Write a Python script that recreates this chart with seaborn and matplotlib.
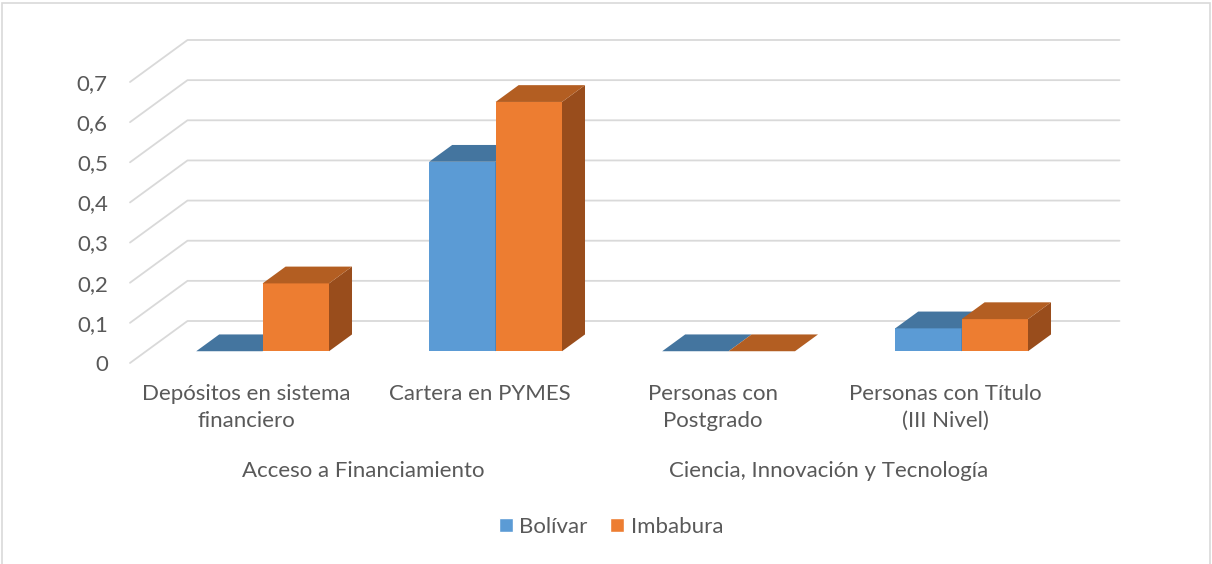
import matplotlib

matplotlib.use('agg')
import matplotlib.pyplot as plt
import matplotlib.transforms as mtransforms
from matplotlib.lines import Line2D
from matplotlib.patches import Patch, Polygon, Rectangle
import pandas as pd
import seaborn as sns

# data
indicadores = ['Depósitos en sistema\nfinanciero', 'Cartera en PYMES',
               'Personas con\nPostgrado', 'Personas con Título\n(III Nivel)']
grupos = ['Acceso a Financiamiento', 'Ciencia, Innovación y Tecnología']
provincias = ['Bolívar', 'Imbabura']
bolivar = [0.0, 0.472, 0.0, 0.057]
imbabura = [0.169, 0.621, 0.0, 0.080]
y_ticks = [0, 0.1, 0.2, 0.3, 0.4, 0.5, 0.6, 0.7]
y_labels = ['0', '0,1', '0,2', '0,3', '0,4', '0,5', '0,6', '0,7']

front_col = {'Bolívar': '#5B9BD5', 'Imbabura': '#ED7D31'}
top_col = {'Bolívar': '#44759F', 'Imbabura': '#B35E22'}
side_col = {'Bolívar': '#3A6590', 'Imbabura': '#994D1C'}
text_col = '#595959'
grid_col = '#D9D9D9'
fs = 16

df = pd.DataFrame({
    'indicador': indicadores * 2,
    'provincia': [provincias[0]] * 4 + [provincias[1]] * 4,
    'valor': bolivar + imbabura,
})

sns.set_theme(style='white')
plt.rcParams['font.family'] = ['Lato', 'DejaVu Sans']

W, H = 1212, 564
fig = plt.figure(figsize=(W / 100, H / 100), dpi=100)
# front plane of the 3D box
ax = fig.add_axes([130 / W, 201 / H, 932 / W, 281 / H])

# depth of the 3D box in pixels, and where the bars sit inside it
DX, DY = 57.5, 42.0
BAR_D0, BAR_D1 = 0.28, 0.68

sns.barplot(data=df, x='indicador', y='valor', hue='provincia', palette=front_col,
            width=0.57, gap=0, saturation=1, linewidth=0, legend=False, ax=ax)
ax.set_xlim(-0.5, 3.5)
ax.set_ylim(0, 0.7)
ax.set_xlabel('')
ax.set_ylabel('')
sns.despine(ax=ax, left=True, bottom=True)


def proj(x, y, d):
    px, py = ax.transData.transform((x, y))
    return px + d * DX, py + d * DY


ident = mtransforms.IdentityTransform()

# gridlines: diagonal on the left wall, then along the back wall
x0, x1 = ax.get_xlim()
for t in y_ticks:
    pts = [proj(x0, t, 0), proj(x0, t, 1), proj(x1, t, 1)]
    ax.add_line(Line2D([p[0] for p in pts], [p[1] for p in pts], transform=ident,
                       color=grid_col, lw=1.3, zorder=0.5, clip_on=False))

# push the bar fronts back into the box and add top / side faces
shift = mtransforms.ScaledTranslation(BAR_D0 * DX / fig.dpi, BAR_D0 * DY / fig.dpi, fig.dpi_scale_trans)
for bar in list(ax.patches):
    xl = bar.get_x()
    xr = xl + bar.get_width()
    h = bar.get_height()
    xc = (xl + xr) / 2
    prov = provincias[0] if xc < round(xc) else provincias[1]
    z = 2 if prov == provincias[0] else 3
    bar.set_transform(ax.transData + shift)
    bar.set_zorder(z)
    bar.set_clip_on(False)
    top = [proj(xl, h, BAR_D0), proj(xr, h, BAR_D0), proj(xr, h, BAR_D1), proj(xl, h, BAR_D1)]
    side = [proj(xr, 0, BAR_D0), proj(xr, h, BAR_D0), proj(xr, h, BAR_D1), proj(xr, 0, BAR_D1)]
    ax.add_patch(Polygon(side, closed=True, transform=ident, facecolor=side_col[prov],
                         lw=0, zorder=z + 0.05, clip_on=False))
    ax.add_patch(Polygon(top, closed=True, transform=ident, facecolor=top_col[prov],
                         lw=0, zorder=z + 0.1, clip_on=False))

ax.set_yticks(y_ticks, y_labels)
ax.set_xticks(range(len(indicadores)), indicadores)
ax.tick_params(axis='y', length=0, pad=16, labelsize=fs, labelcolor=text_col)
ax.tick_params(axis='x', length=0, pad=15, labelsize=fs, labelcolor=text_col)
for lbl in ax.get_xticklabels():
    lbl.set_linespacing(1.45)

# second level of category labels
for i, g in enumerate(grupos):
    ax.text(2 * i + 0.5, -0.384, g, transform=ax.get_xaxis_transform(),
            ha='center', va='center', fontsize=fs, color=text_col)

handles = [Patch(facecolor=front_col[p], label=p) for p in provincias]
fig.legend(handles=handles, loc='center', bbox_to_anchor=(611 / W, 1 - 527 / H), ncol=2,
           frameon=False, fontsize=fs, handlelength=0.63, handleheight=0.63,
           handletextpad=0.3, columnspacing=1.0, labelcolor=text_col)

# chart area border
fig.patches.append(Rectangle((2.5 / W, -0.05), 1207.5 / W, 1.05 - 3 / H, transform=fig.transFigure,
                             fill=False, edgecolor=grid_col, lw=1.2))

fig.savefig('out.png', dpi=100)
